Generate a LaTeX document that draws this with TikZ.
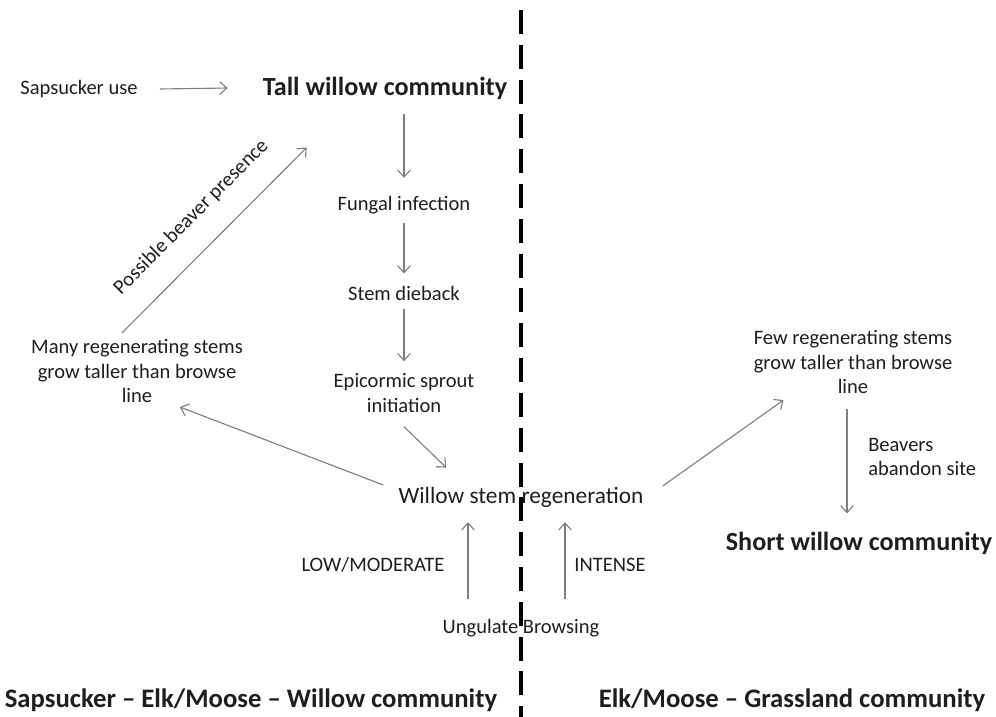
\documentclass[tikz,border=0pt]{standalone}
\usepackage{fontspec}
\setmainfont{Carlito}
\usetikzlibrary{arrows.meta}
\definecolor{ink}{RGB}{30,30,30}
\definecolor{stem}{RGB}{128,128,116}
\begin{document}
\begin{tikzpicture}[x=0.025cm,y=0.025cm,
	lbl/.style={text=ink,inner sep=0pt,align=center,font=\fontsize{14.6}{17.5}\selectfont},
	mid/.style={text=ink,inner sep=0pt,font=\fontsize{16.6}{19}\selectfont},
	head/.style={text=ink,inner sep=0pt,font=\fontsize{18.6}{22}\selectfont\bfseries},
	foot/.style={text=ink,inner sep=0pt,font=\fontsize{19}{23}\selectfont\bfseries},
	arr/.style={draw=stem,line width=0.8pt,-{Straight Barb[length=5pt,width=9pt]}}]
	\useasboundingbox (0,0) rectangle (996,-717);
	\draw[line width=2.8pt,dash pattern=on 0.6cm off 0.27cm] (521,-10)--(521,-717);
	% willow side
	\node[lbl] (sap) at (79,-89) {Sapsucker use};
	\node[head] (tall) at (385,-88) {Tall willow community};
	\node[lbl] (fung) at (404,-205) {Fungal infection};
	\node[lbl] (die) at (404,-293) {Stem dieback};
	\node[lbl] (epi) at (404,-393) {Epicormic sprout\\initiation};
	\node[mid] (regen) at (521,-497) {Willow stem regeneration};
	\node[lbl] (many) at (137,-371) {Many regenerating stems\\grow taller than browse\\line};
	\node[lbl] (low) at (373,-565) {LOW/MODERATE};
	\node[lbl] (int) at (610,-565) {INTENSE};
	\node[lbl] (ung) at (521,-628) {Ungulate Browsing};
	% grassland side
	\node[lbl] (few) at (853,-362) {Few regenerating stems\\grow taller than browse\\line};
	\node[lbl,align=left,anchor=west] (beav) at (868,-457) {Beavers\\abandon site};
	\node[head] (short) at (859,-543) {Short willow community};
	\node[foot] (left) at (251,-700) {Sapsucker -- Elk/Moose -- Willow community};
	\node[foot] (right) at (792,-700) {Elk/Moose -- Grassland community};
	\draw[arr] ([shift={(22,0)}]sap.east) -- ([shift={(-35,0)}]tall.west);
	\draw[arr,shorten <=0.36cm,shorten >=0.45cm] (tall.south -| fung) -- (fung);
	\draw[arr,shorten <=0.22cm,shorten >=0.3cm] (fung) -- (die);
	\draw[arr,shorten <=0.22cm,shorten >=0.3cm] (die) -- (epi);
	\draw[arr] ([shift={(0,-14)}]epi.south) -- ([shift={(48,19)}]regen.north west);
	\draw[arr] ([shift={(-15,12)}]regen.west) -- ([shift={(43,-4)}]many.south);
	\draw[arr] ([shift={(-15,6)}]many.north) -- node[sloped,above=0.58cm,pos=0.5,lbl]{Possible beaver presence} ([shift={(44,-48)}]tall.south west);
	\draw[arr] ([shift={(19,11)}]regen.east) -- ([shift={(30,-6)}]few.south west);
	\draw[arr,shorten <=0.37cm,shorten >=0.45cm] ([shift={(-6,0)}]few.south) -- ([shift={(-6,0)}]few.south |- short.north);
	\draw[arr,shorten <=0.5cm,shorten >=0.37cm] ([shift={(-53,0)}]ung.north) -- ([shift={(-53,0)}]ung.north |- regen.south);
	\draw[arr,shorten <=0.5cm,shorten >=0.37cm] ([shift={(44,0)}]ung.north) -- ([shift={(44,0)}]ung.north |- regen.south);
\end{tikzpicture}
\end{document}
